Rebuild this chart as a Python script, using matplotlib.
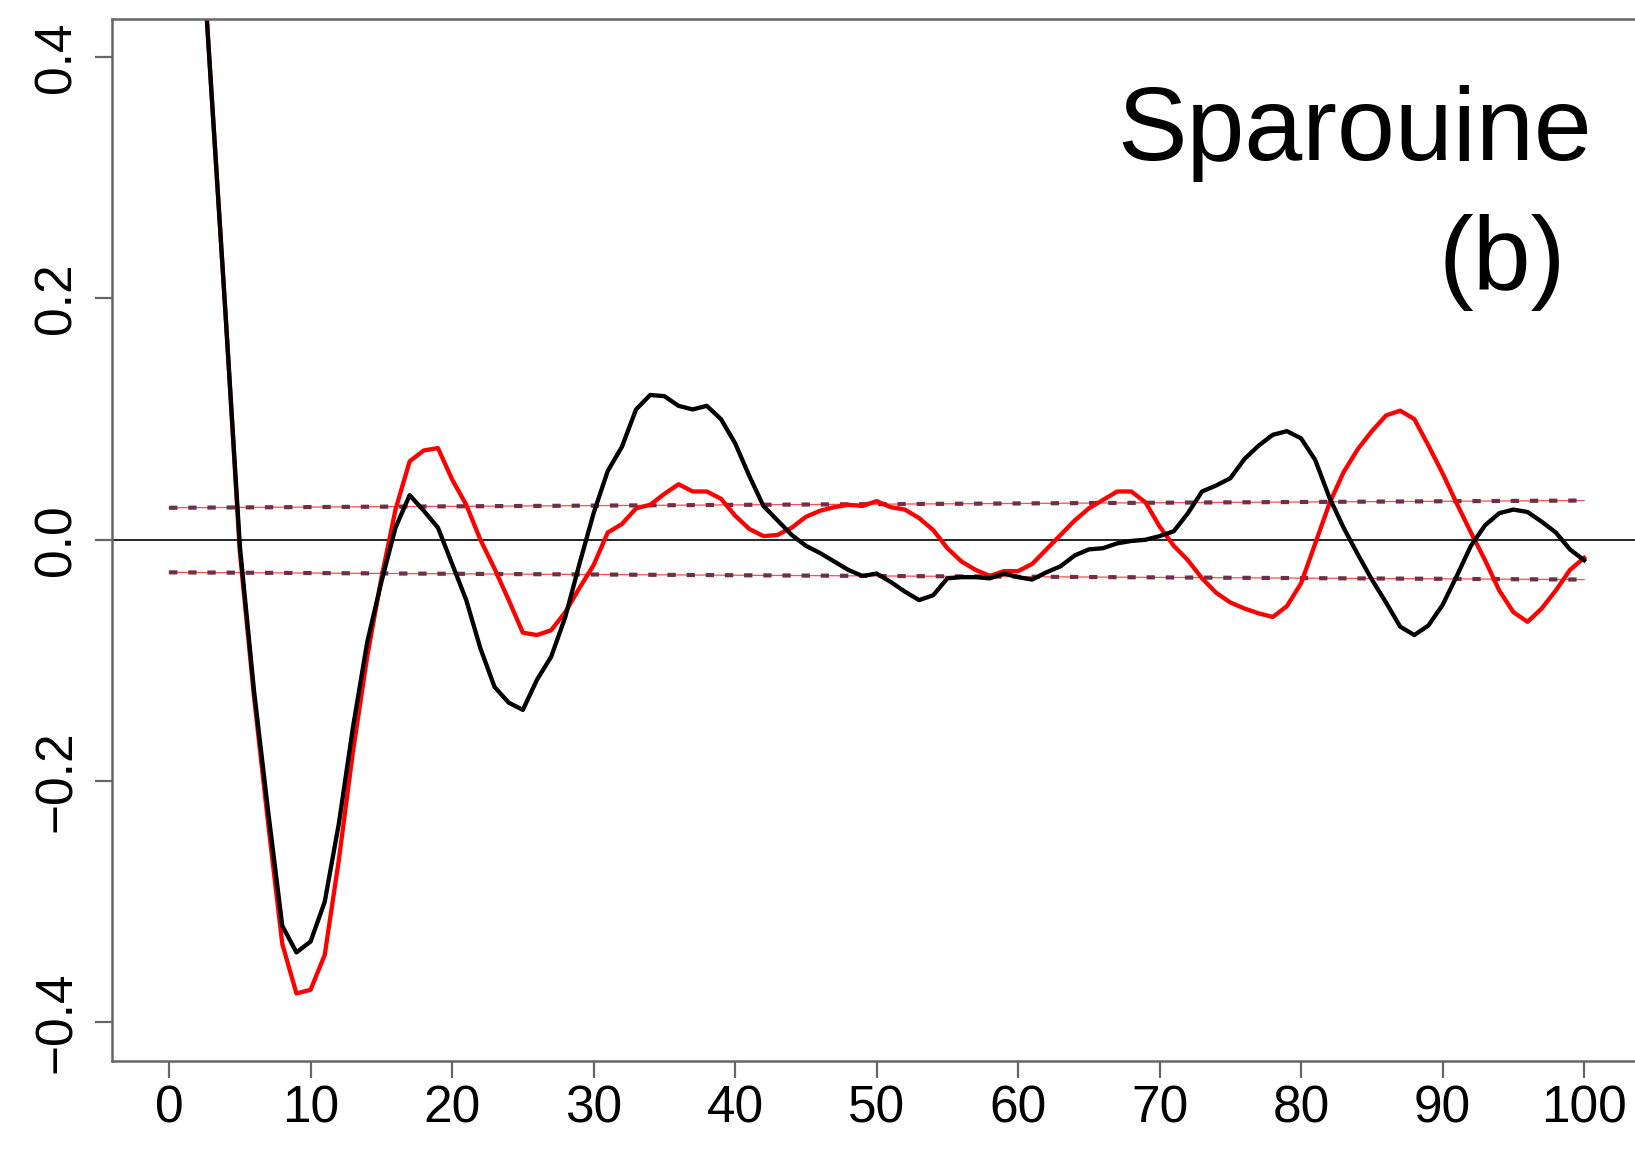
import numpy as np
import matplotlib
matplotlib.use("Agg")
import matplotlib.pyplot as plt

plt.rcParams['font.family'] = ['Liberation Sans', 'DejaVu Sans']

## ---------------------- DATA -------------------------------
lags = np.arange(0, 101)

acf_black = [1.0, 0.80, 0.555, 0.37, 0.185, -0.005, -0.125, -0.225, -0.32, -0.342,
             -0.333, -0.300, -0.235, -0.155, -0.085, -0.035, 0.010, 0.037, 0.024, 0.010,
             -0.020, -0.050, -0.090, -0.122, -0.135, -0.141, -0.116, -0.097, -0.064, -0.020,
             0.022, 0.057, 0.077, 0.108, 0.120, 0.119, 0.111, 0.108, 0.111, 0.100,
             0.080, 0.053, 0.028, 0.016, 0.004, -0.005, -0.011, -0.018, -0.025, -0.030,
             -0.028, -0.035, -0.043, -0.050, -0.046, -0.032, -0.031, -0.031, -0.032, -0.028,
             -0.031, -0.033, -0.027, -0.022, -0.013, -0.008, -0.007, -0.003, -0.001, 0.000,
             0.003, 0.007, 0.022, 0.040, 0.045, 0.051, 0.067, 0.078, 0.087, 0.090,
             0.084, 0.066, 0.035, 0.010, -0.012, -0.033, -0.052, -0.072, -0.079, -0.071,
             -0.054, -0.030, -0.005, 0.012, 0.022, 0.025, 0.023, 0.015, 0.006, -0.008,
             -0.017]

acf_red = [1.0, 0.80, 0.555, 0.37, 0.185, -0.01, -0.13, -0.235, -0.335, -0.376,
           -0.373, -0.344, -0.265, -0.175, -0.097, -0.032, 0.025, 0.065, 0.074, 0.076,
           0.050, 0.029, 0.000, -0.024, -0.050, -0.077, -0.079, -0.075, -0.060, -0.040,
           -0.021, 0.006, 0.013, 0.026, 0.029, 0.038, 0.046, 0.040, 0.040, 0.034,
           0.020, 0.009, 0.003, 0.004, 0.010, 0.019, 0.024, 0.027, 0.029, 0.028,
           0.032, 0.027, 0.025, 0.018, 0.008, -0.007, -0.018, -0.025, -0.030, -0.026,
           -0.026, -0.020, -0.008, 0.004, 0.016, 0.026, 0.033, 0.040, 0.040, 0.031,
           0.011, -0.005, -0.017, -0.032, -0.044, -0.052, -0.057, -0.061, -0.064, -0.055,
           -0.036, -0.003, 0.030, 0.056, 0.075, 0.090, 0.103, 0.107, 0.100, 0.078,
           0.055, 0.030, 0.006, -0.017, -0.042, -0.060, -0.068, -0.057, -0.042, -0.025,
           -0.015]

# confidence band ends (lag 0 and lag 100)
band_lags = [0, 100]
band_upper = [0.0265, 0.0325]
band_lower = [-0.027, -0.033]

xticks = list(range(0, 101, 10))
yticks = [-0.4, -0.2, 0.0, 0.2, 0.4]

## ---------------------- PLOTTING -------------------------------
fig = plt.figure(figsize=(16.35, 11.5), dpi=100)
ax = fig.add_axes([0.0688, 0.0774, 0.9347, 0.9065])

ax.plot(band_lags, band_upper, color='red', lw=0.9, alpha=0.7)
ax.plot(band_lags, band_lower, color='red', lw=0.9, alpha=0.7)
ax.plot(band_lags, band_upper, color='#6e3048', lw=3.0, dashes=(2.0, 2.6))
ax.plot(band_lags, band_lower, color='#6e3048', lw=3.0, dashes=(2.0, 2.6))

ax.axhline(0, color='black', lw=1.2)

ax.plot(lags, acf_red, color='red', lw=3.1)
ax.plot(lags, acf_black, color='black', lw=3.1)

ax.set_xlim(-4, 104)
ax.set_ylim(-0.432, 0.432)

for side in ['top', 'left', 'bottom', 'right']:
    ax.spines[side].set_color('#666666')
    ax.spines[side].set_linewidth(1.8)

ax.set_xticks(xticks)
ax.set_xticklabels([str(t) for t in xticks])
ax.set_yticks(yticks)
ax.set_yticklabels(['\u22120.4', '\u22120.2', '0.0', '0.2', '0.4'],
                   rotation=90, va='center')
ax.tick_params(axis='both', labelsize=37, length=12, width=1.6, color='#666666')
ax.tick_params(axis='x', pad=5)
ax.tick_params(axis='y', pad=10)

fig.text(1592 / 1635, 1 - 159.5 / 1150, 'Sparouine', ha='right', va='baseline',
         fontsize=75)
fig.text(1566 / 1635, 1 - 289 / 1150, '(b)', ha='right', va='baseline',
         fontsize=75)

fig.savefig('out.png', dpi=100)
